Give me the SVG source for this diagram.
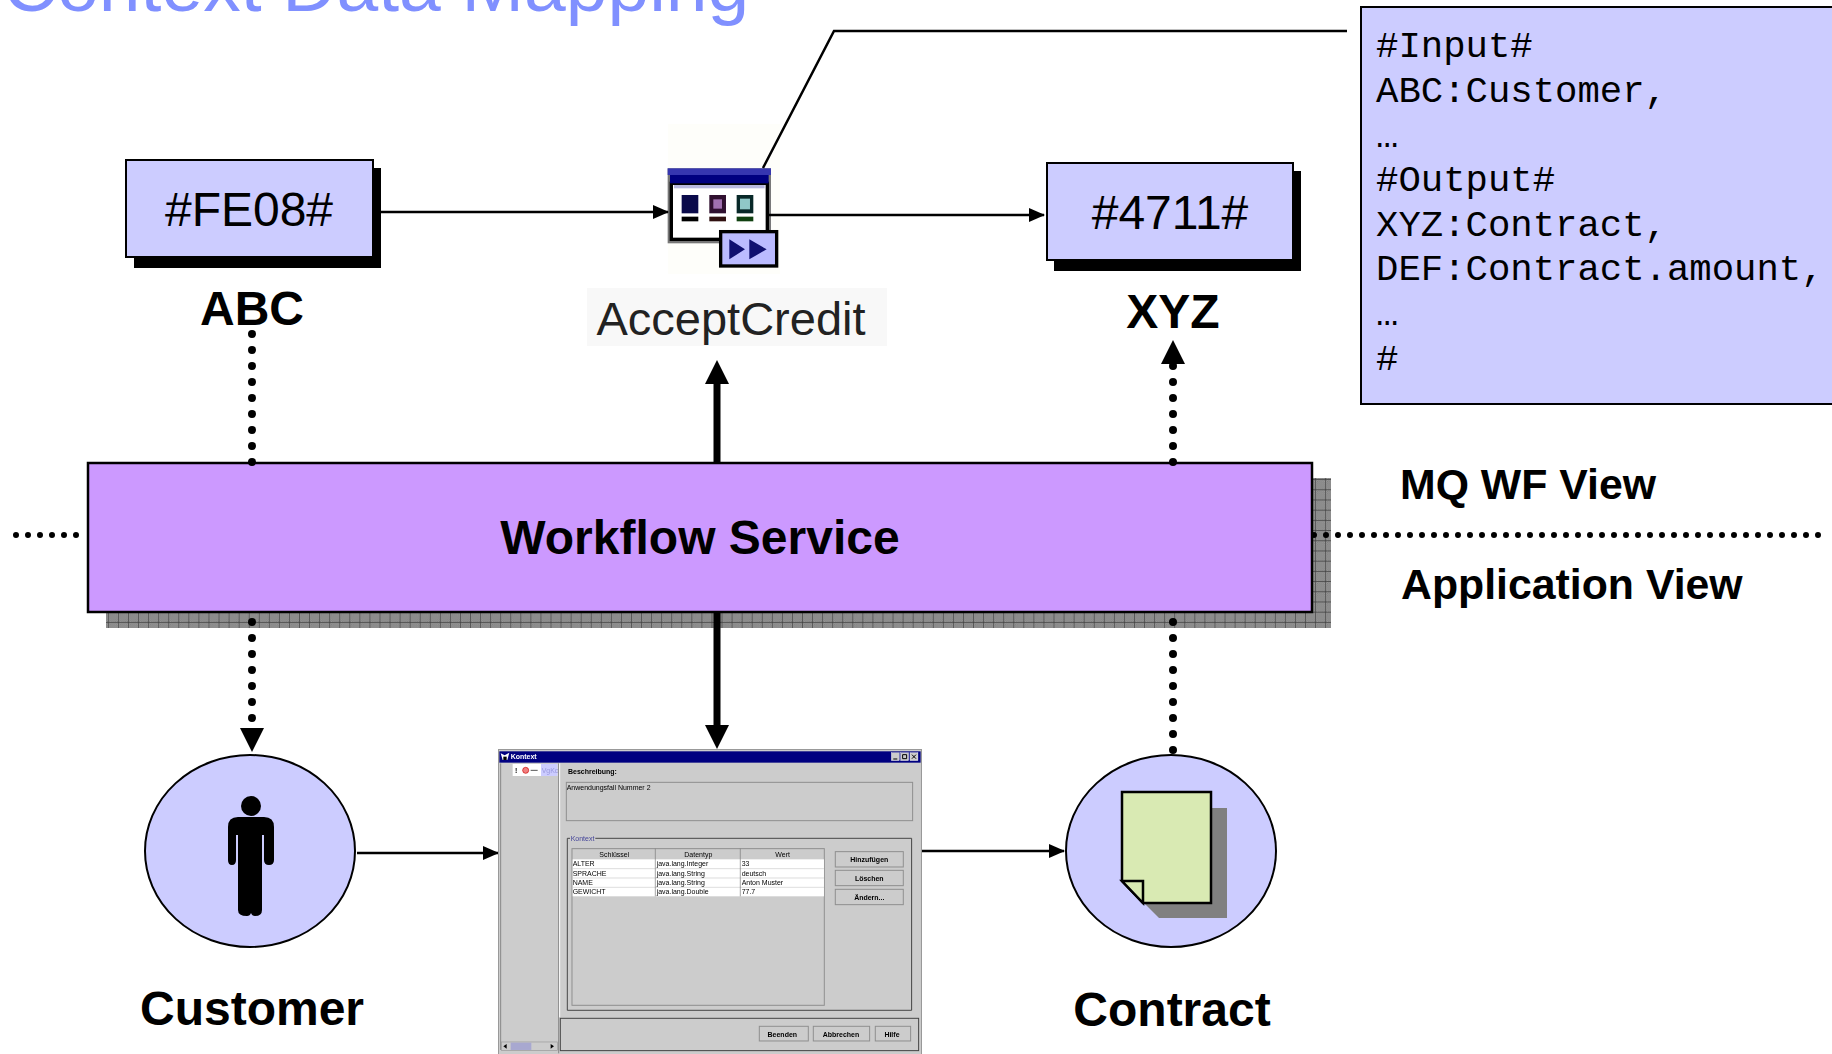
<svg xmlns="http://www.w3.org/2000/svg" width="1832" height="1054" viewBox="0 0 1832 1054">
<defs>
<marker id="ah" markerUnits="userSpaceOnUse" markerWidth="16" markerHeight="14" refX="15" refY="7" orient="auto"><path d="M0 0L16 7L0 14Z" fill="#000"/></marker>
<marker id="ahb" markerUnits="userSpaceOnUse" markerWidth="24" markerHeight="24" refX="0" refY="12" orient="auto"><path d="M0 0L24 12L0 24Z" fill="#000"/></marker>
<pattern id="chk" width="2" height="2" patternUnits="userSpaceOnUse"><rect width="2" height="2" fill="#a0a0a0"/><path d="M0 0H1V1H0ZM1 1H2V2H1Z" fill="#787878"/></pattern>
<pattern id="grid" width="10.06" height="10.2" patternUnits="userSpaceOnUse" x="208.5" y="489.3"><rect width="10.06" height="10.2" fill="url(#chk)"/><path d="M0 0H10.06M0 0V10.2" stroke="#3c3c3c" stroke-width="1.2" fill="none"/></pattern>
<filter id="soft" x="0" y="0" width="1" height="1"><feGaussianBlur stdDeviation="0.4"/></filter>
</defs>
<style>
text{font-family:"Liberation Sans",Arial,sans-serif;fill:#000}
.b{font-weight:700}
.lab{font-size:48px;font-weight:700;text-anchor:middle}
.view{font-size:42.8px;font-weight:700}
.id{font-size:48px;text-anchor:middle}
.code{font-family:"Liberation Mono","Courier New",monospace;font-size:37.3px}
.box{fill:#ccccff;stroke:#000;stroke-width:2}
.thin{stroke:#000;stroke-width:2.5;fill:none}
.thick{stroke:#000;stroke-width:7;fill:none}
.dot{stroke:#000;stroke-width:8;stroke-linecap:round;stroke-dasharray:0 16;fill:none}
.hdot{stroke:#000;stroke-width:6;stroke-linecap:round;stroke-dasharray:0 12;fill:none}
.z{font-size:21px}
.zb{font-size:21px;font-weight:700}
.btn{fill:#cccccc;stroke:#8f8f8f;stroke-width:3}
.tb{fill:#ccc;stroke:#fff;stroke-width:1}
</style>
<text x="3" y="11" font-size="75" style="fill:#8090ff">Context Data Mapping</text>

<g id="acceptcredit">
<rect x="587" y="288" width="300" height="58" fill="#f8f8f8"/>
<rect x="668" y="124" width="112" height="150" fill="#fefefa"/>
<g transform="translate(580 120) scale(.3333)">
<rect x="263" y="145" width="310" height="225" fill="#777"/>
<rect x="274" y="190" width="288" height="168" fill="#fff" stroke="#000" stroke-width="10"/>
<rect x="263" y="145" width="310" height="20" fill="#3636b0"/>
<rect x="270" y="165" width="296" height="25" fill="#000080"/>
<rect x="282" y="195" width="272" height="10" fill="#b8b8e0"/>
<rect x="305" y="225" width="50" height="55" fill="#0a0a4a"/><rect x="305" y="290" width="50" height="14"/>
<rect x="388" y="225" width="50" height="55" fill="#301030"/><rect x="400" y="238" width="26" height="28" fill="#a070b0"/><rect x="388" y="290" width="50" height="14" fill="#301010"/>
<rect x="470" y="225" width="50" height="55" fill="#082828"/><rect x="480" y="236" width="30" height="32" fill="#90c8c8"/><rect x="470" y="290" width="50" height="14" fill="#104010"/>
<rect x="422" y="335" width="168" height="103" fill="#bbbbff" stroke="#000" stroke-width="10"/>
<path d="M448 358L495 388L448 418ZM508 358L560 388L508 418Z" fill="#101070"/>
</g>
<text x="731" y="335" font-size="47" text-anchor="middle" style="fill:#222">AcceptCredit</text>
</g>

<g id="workflow">
<rect x="106" y="478" width="1225" height="150" fill="url(#grid)"/>
<rect x="88" y="463" width="1224" height="149" fill="#cc99ff" stroke="#000" stroke-width="2.5"/>
<text x="700" y="554" font-size="48" class="b" text-anchor="middle">Workflow Service</text>
</g>

<g id="connectors">
<path class="thin" d="M381 212H668" marker-end="url(#ah)"/>
<path class="thin" d="M769 215H1044" marker-end="url(#ah)"/>
<path class="thin" d="M763 168L834 31H1347"/>
<path class="thick" d="M717 463V384" marker-end="url(#ahb)"/>
<path class="thick" d="M717 612V725" marker-end="url(#ahb)"/>
<path class="dot" d="M252 462V333"/>
<path class="dot" d="M1173 462V364"/>
<path d="M1173 340L1185 364H1161Z"/>
<path class="dot" d="M252 622V719"/>
<path d="M252 752L240 728H264Z"/>
<path class="dot" d="M1173 622V751"/>
<path class="thin" d="M357 853H498" marker-end="url(#ah)"/>
<path class="thin" d="M922 851H1064" marker-end="url(#ah)"/>
<path class="hdot" d="M16 535H86"/>
<path class="hdot" d="M1314 535H1822"/>
</g>

<g id="abc">
<rect x="134" y="168" width="247" height="100" fill="#000"/>
<rect class="box" x="126" y="160" width="247" height="97"/>
<text class="id" x="249" y="226">#FE08#</text>
<text class="lab" x="252" y="325">ABC</text>
</g>
<g id="xyz">
<rect x="1054" y="171" width="247" height="100" fill="#000"/>
<rect class="box" x="1047" y="163" width="246" height="97"/>
<text class="id" x="1170" y="229">#4711#</text>
<text class="lab" x="1173" y="328">XYZ</text>
</g>
<g id="input">
<rect class="box" x="1361" y="7" width="480" height="397"/>
<text class="code" x="1376" y="57">#Input#</text>
<text class="code" x="1376" y="102">ABC:Customer,</text>
<text class="code" x="1376" y="147">…</text>
<text class="code" x="1376" y="191">#Output#</text>
<text class="code" x="1376" y="236">XYZ:Contract,</text>
<text class="code" x="1376" y="280">DEF:Contract.amount,</text>
<text class="code" x="1376" y="325">…</text>
<text class="code" x="1376" y="370">#</text>
</g>
<g id="view-labels">
<text class="view" x="1400" y="499">MQ WF View</text>
<text class="view" x="1401" y="599">Application View</text>
</g>

<g id="customer">
<ellipse class="box" cx="250" cy="851" rx="105" ry="96"/>
<circle cx="251" cy="806" r="10"/>
<path d="M238 817H264Q274 817 274 827V860Q274 865 269 865Q264 865 264 860V835H262V910Q262 916 255 916Q252 916 251 913Q250 916 247 916Q238 916 238 910V835H236V860Q236 865 232 865Q228 865 228 860V827Q228 817 238 817Z"/>
<text class="lab" x="252" y="1025">Customer</text>
</g>
<g id="contract">
<ellipse class="box" cx="1171" cy="851" rx="105" ry="96"/>
<path d="M1138 808H1227V918H1159L1138 897Z" fill="#808080"/>
<path d="M1122 792H1211V903H1143L1122 881Z" fill="#d9eab3" stroke="#000" stroke-width="2.5"/>
<path d="M1122 881H1143V903Z" fill="#d9eab3" stroke="#000" stroke-width="2.5"/>
<text class="lab" x="1172" y="1026">Contract</text>
</g>

<g id="screenshot" transform="translate(490 740) scale(.3333)" filter="url(#soft)">
<rect x="25" y="28" width="1270" height="920" fill="#cccccc" stroke="#999" stroke-width="4"/>
<rect x="28" y="34" width="1264" height="34" fill="#000080"/>
<text x="62" y="56" class="zb" style="fill:#fff">Kontext</text>
<rect class="tb" x="1204" y="38" width="24" height="24"/><rect class="tb" x="1232" y="38" width="24" height="24"/><rect class="tb" x="1260" y="38" width="24" height="24"/>
<path d="M1210 57H1222M1238 44H1250V56H1238ZM1266 44L1278 56M1278 44L1266 56" stroke="#000" stroke-width="3" fill="none"/>
<path d="M32 40L44 46L58 38L52 60H38Z" fill="#fff"/><path d="M40 50H50V60H40Z"/>
<rect x="68" y="72" width="134" height="36" fill="#fff"/><rect x="153" y="72" width="49" height="36" fill="#ccccff"/>
<text x="75" y="100" class="zb">!</text><circle cx="107" cy="91" r="9" fill="#f08080" stroke="#c00" stroke-width="2"/><path d="M122 91H143" stroke="#555" stroke-width="3"/>
<text x="155" y="99" class="z" style="fill:#9999dd">VgKc</text>
<path d="M32 70V930M206 70V940" stroke="#888" stroke-width="3" fill="none"/><path d="M209 70V832" stroke="#fff" stroke-width="3"/>
<rect x="34" y="906" width="168" height="26" fill="#ccc" stroke="#999" stroke-width="2"/><rect x="62" y="908" width="62" height="22" fill="#a8a8d0"/>
<path d="M40 919L50 912V926ZM192 919L182 912V926Z"/>
<text x="234" y="101" class="zb">Beschreibung:</text>
<rect x="229" y="127" width="1039" height="115" fill="#ccc" stroke="#8f8f8f" stroke-width="3"/>
<text x="230" y="150" class="z">Anwendungsfall Nummer 2</text>
<path d="M240 295H232V811H1265V295H316" fill="none" stroke="#444" stroke-width="3"/>
<text x="242" y="302" class="z" style="fill:#444499">Kontext</text>
<rect x="246" y="326" width="757" height="470" fill="#ccc" stroke="#8f8f8f" stroke-width="3"/>
<rect x="248" y="358" width="754" height="111" fill="#fff"/>
<path d="M248 386H1002M248 414H1002M248 442H1002" stroke="#ccc" stroke-width="2"/>
<path d="M496 326V469M751 326V469" stroke="#777" stroke-width="2"/>
<text x="373" y="350" class="z" text-anchor="middle">Schlüssel</text><text x="625" y="350" class="z" text-anchor="middle">Datentyp</text><text x="878" y="350" class="z" text-anchor="middle">Wert</text>
<text x="248" y="379" class="z">ALTER</text><text x="500" y="379" class="z">java.lang.Integer</text><text x="755" y="379" class="z">33</text>
<text x="248" y="407" class="z">SPRACHE</text><text x="500" y="407" class="z">java.lang.String</text><text x="755" y="407" class="z">deutsch</text>
<text x="248" y="435" class="z">NAME</text><text x="500" y="435" class="z">java.lang.String</text><text x="755" y="435" class="z">Anton Muster</text>
<text x="248" y="463" class="z">GEWICHT</text><text x="500" y="463" class="z">java.lang.Double</text><text x="755" y="463" class="z">77.7</text>
<rect class="btn" x="1036" y="335" width="204" height="46"/><text x="1138" y="367" class="zb" text-anchor="middle">Hinzufügen</text>
<rect class="btn" x="1036" y="391" width="204" height="46"/><text x="1138" y="423" class="zb" text-anchor="middle">Löschen</text>
<rect class="btn" x="1036" y="448" width="204" height="46"/><text x="1138" y="479" class="zb" text-anchor="middle">Ändern...</text>
<rect x="211" y="835" width="1075" height="97" fill="#ccc" stroke="#444" stroke-width="3"/>
<rect class="btn" x="808" y="859" width="147" height="44"/><text x="877" y="890" class="zb" text-anchor="middle">Beenden</text>
<rect class="btn" x="970" y="859" width="169" height="44"/><text x="1053" y="890" class="zb" text-anchor="middle">Abbrechen</text>
<rect class="btn" x="1156" y="859" width="106" height="44"/><text x="1206" y="890" class="zb" text-anchor="middle">Hilfe</text>
</g>
</svg>
